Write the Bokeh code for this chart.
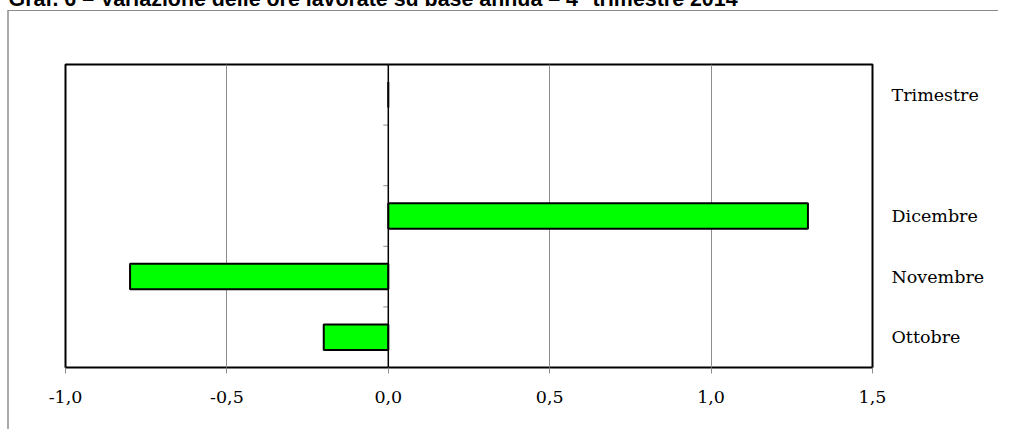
from bokeh.plotting import figure
from bokeh.models import FixedTicker, LinearAxis, Range1d, Span, ColumnDataSource
from bokeh.embed import file_html
from bokeh.resources import INLINE

title_text = "Graf. 6 – Variazione delle ore lavorate su base annua – 4° trimestre 2014"
categories = ["Ottobre", "Novembre", "Dicembre", "", "Trimestre"]
values = [-0.2, -0.8, 1.3, None, 0.0]
x_ticks = [-1.0, -0.5, 0.0, 0.5, 1.0, 1.5]
x_tick_labels = ["-1,0", "-0,5", "0,0", "0,5", "1,0", "1,5"]

pos = [i for i, c in enumerate(categories) if c]
vals = [values[i] for i in pos]
src = ColumnDataSource(dict(y=pos, right=vals, left=[0.0] * len(pos)))

D = 34                      # canvas starts above the page top (title is cut like the reference)
W = 998
ML, MT = 65, 64 + D
FW, FH = 807, 303
MB = 62
H = MT + FH + MB
MR = W - ML - FW

p = figure(width=W, height=H, output_backend="svg", toolbar_location=None,
           x_range=Range1d(x_ticks[0], x_ticks[-1]),
           y_range=Range1d(-0.5, len(categories) - 0.5),
           min_border_left=ML, min_border_right=MR, min_border_top=MT, min_border_bottom=MB,
           y_axis_location=None)
p.background_fill_color = "white"
p.border_fill_color = None
p.outline_line_color = "black"
p.outline_line_width = 2
# outer grey frame of the chart box (page decoration)
p.styles = {
    "transform": f"translateY(-{D}px)",
    "background-color": "white",
    "background-image": "linear-gradient(#8a8a8a, #8a8a8a), linear-gradient(#ababab, #ababab)",
    "background-size": "100% 1px, 2px 100%",
    "background-position": f"8px {10 + D}px, 7px {10 + D}px",
    "background-repeat": "no-repeat",
}

# title
p.title.text = title_text
p.title.align = "left"
p.title.offset = -ML + 8
p.title.text_font = "Liberation Sans"
p.title.text_font_style = "bold"
p.title.text_font_size = "21.4px"
p.title.text_color = "black"

xa = p.below[0]

# invisible spacer between the title and the frame (nothing drawn)
spacer = LinearAxis(ticker=FixedTicker(ticks=x_ticks))
spacer.axis_line_color = None
spacer.major_tick_line_color = None
spacer.minor_tick_line_color = None
spacer.major_tick_out = 49
spacer.major_tick_in = 0
spacer.major_label_standoff = 17
spacer.major_label_text_font = "DejaVu Serif"
spacer.major_label_text_font_size = "17.5px"
spacer.major_label_text_color = None
p.add_layout(spacer, "above")

# vertical grid
p.xgrid.ticker = FixedTicker(ticks=x_ticks)
p.xgrid.grid_line_color = "#8c8c8c"
p.xgrid.grid_line_width = 1
p.ygrid.visible = False

p.hbar(y="y", left="left", right="right", height=0.42, source=src,
       fill_color="#00ff00", line_color="black", line_width=2)

# zero axis line with category separator ticks
p.add_layout(Span(location=0, dimension="height", line_color="black", line_width=1.5))
boundaries = [i + 0.5 for i in range(len(categories) - 1)]
tick_len = 5 * (x_ticks[-1] - x_ticks[0]) / FW
p.segment(x0=[-tick_len] * len(boundaries), x1=[0.0] * len(boundaries),
          y0=boundaries, y1=boundaries, line_color="#8c8c8c", line_width=1)

# bottom axis
xa.ticker = FixedTicker(ticks=x_ticks)
xa.major_label_overrides = {t: l for t, l in zip(x_ticks, x_tick_labels)}
xa.axis_line_color = None
xa.major_tick_line_color = "#8c8c8c"
xa.major_tick_out = 6
xa.major_tick_in = 0
xa.minor_tick_line_color = None
xa.major_label_standoff = 17
xa.major_label_text_font = "DejaVu Serif"
xa.major_label_text_font_size = "17.5px"
xa.major_label_text_color = "black"

# category labels on the right
ra = LinearAxis(ticker=FixedTicker(ticks=pos))
ra.major_label_overrides = {i: categories[i] for i in pos}
ra.axis_line_color = None
ra.major_tick_line_color = None
ra.minor_tick_line_color = None
ra.major_label_standoff = 13
ra.major_label_text_font = "DejaVu Serif"
ra.major_label_text_font_size = "17.5px"
ra.major_label_text_color = "black"
p.add_layout(ra, "right")

open("out.html", "w").write(file_html(p, INLINE))
